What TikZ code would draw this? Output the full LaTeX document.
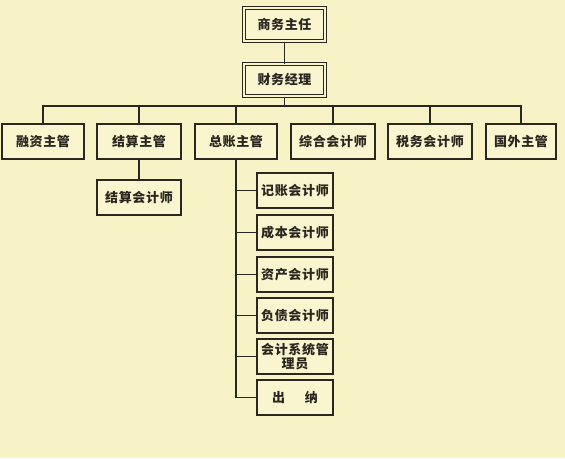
\documentclass[tikz,border=0pt]{standalone}
\usepackage{fontspec}
\newfontfamily\cjk[LetterSpace=5]{Noto Sans CJK SC}
\definecolor{bg}{HTML}{F8F3C6}
\definecolor{boxfill}{HTML}{F9F5CE}
\definecolor{ink}{HTML}{2A2620}
\begin{document}
\begin{tikzpicture}[x=1pt,y=-1pt,
  box/.style={draw=ink,line width=1.1pt,fill=boxfill,inner sep=0pt,
    font=\cjk\bfseries\fontsize{13}{14}\selectfont,text=ink,align=center},
  topbox/.style={box,double=boxfill,double distance=1.2pt,line width=1pt},
  wire/.style={draw=ink,line width=1.2pt}]
\fill[bg] (0,0) rectangle (565,458);
\useasboundingbox (0,0) rectangle (565,458);
% top
\node[topbox,minimum width=81pt,minimum height=33pt] (boss) at (284.5,24.5) {商务主任};
\node[topbox,minimum width=81pt,minimum height=32pt] (fm) at (284.5,80) {财务经理};
% row 2
\foreach \n/\x/\w/\t in {a/43/82/融资主管, b/139/84/结算主管, c/236/82/总账主管, d/333/84/综合会计师, e/430/84/税务会计师, f/521/70/国外主管}{
  \node[box,minimum width=\w pt,minimum height=35pt] (\n) at (\x,141.5) {\t};
}
\node[box,minimum width=84pt,minimum height=35pt] (b1) at (139,197.5) {结算会计师};
% column under 总账主管
\node[box,minimum width=76pt,minimum height=35pt] (c1) at (295,190.5) {记账会计师};
\node[box,minimum width=76pt,minimum height=35pt] (c2) at (295,232.5) {成本会计师};
\node[box,minimum width=76pt,minimum height=35pt] (c3) at (295,274.5) {资产会计师};
\node[box,minimum width=76pt,minimum height=35pt] (c4) at (295,315.5) {负债会计师};
\node[box,minimum width=76pt,minimum height=35pt] (c5) at (295,356.5) {会计系统管\\理员};
\node[box,minimum width=76pt,minimum height=35pt] (c6) at (295,397.5) {出\hspace{20pt}纳};
% connectors
\coordinate (bus) at (284.5,106);
\draw[wire] (boss.south) -- (fm.north);
\draw[wire] (fm.south) -- (bus);
\draw[wire] (a.north) -- (a.north |- bus) -- (f.north |- bus) -- (f.north);
\foreach \n in {b,c,d,e}{
  \draw[wire] (\n.north |- bus) -- (\n.north);
}
\draw[wire] (b.south) -- (b1.north);
\coordinate (cx) at (236,0);
\draw[wire] (c.south) -- (cx |- c6.west) -- (c6.west);
\foreach \n in {c1,c2,c3,c4,c5}{
  \draw[wire] (cx |- \n.west) -- (\n.west);
}
\end{tikzpicture}
\end{document}
